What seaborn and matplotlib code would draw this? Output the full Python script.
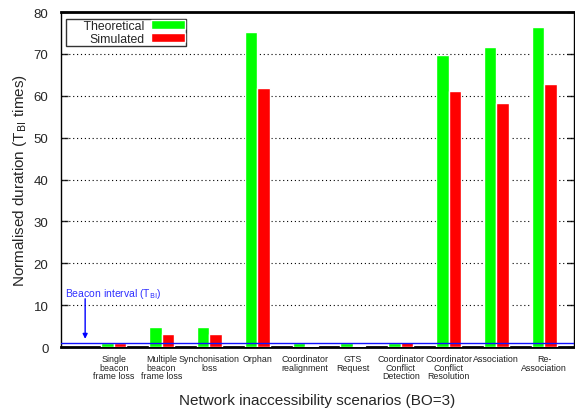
import pandas as pd
import matplotlib.pyplot as plt
import seaborn as sns

# Daten
szenarien = ["Single\nbeacon\nframe loss", "Multiple\nbeacon\nframe loss", "Synchonisation\nloss",
             "Orphan", "Coordinator\nrealignment", "GTS\nRequest", "Coordinator\nConflict\nDetection",
             "Coordinator\nConflict\nResolution", "Association", "Re-\nAssociation"]
theoretisch = [1.0, 4.7, 4.7, 75.3, 1.0, 1.0, 1.0, 69.8, 71.7, 76.5]
simuliert = [1.0, 3.1, 3.1, 61.8, 0.2, 0.2, 1.3, 61.2, 58.3, 62.8]
beacon_interval = 1.0

df = pd.DataFrame({
    "szenario": szenarien * 2,
    "wert": theoretisch + simuliert,
    "typ": ["Theoretical"] * len(szenarien) + ["Simulated"] * len(szenarien),
})

sns.set_style("white")
plt.rcParams["font.family"] = ["Liberation Sans", "DejaVu Sans"]

fig = plt.figure(figsize=(5.75, 4.10), dpi=100)
ax = fig.add_axes([0.106, 0.151, 0.892, 0.817])

sns.barplot(data=df, x="szenario", y="wert", hue="typ", order=szenarien,
            palette={"Theoretical": "#00ff00", "Simulated": "#ff0000"},
            width=0.52, saturation=1, errorbar=None, ax=ax, zorder=3)

ax.set_xlim(-1.106, 9.62)
ax.set_ylim(0, 80)
ax.set_yticks(range(0, 81, 10))
for y in range(10, 80, 10):
    ax.axhline(y, color="black", linestyle=(0, (1, 2.5)), linewidth=0.8, zorder=1)
ax.axhline(beacon_interval, color="#1010ff", linewidth=1.0, zorder=4)

ax.tick_params(axis="y", direction="in", length=5, width=1, left=True, right=True,
               labelsize=9.5, pad=9)
ax.tick_params(axis="x", length=0, labelsize=6.4, pad=5)
for lbl in ax.get_xticklabels():
    lbl.set_color("#222222")
    lbl.set_linespacing(0.95)
for s in ["top", "bottom"]:
    ax.spines[s].set_linewidth(2)
for s in ["left", "right"]:
    ax.spines[s].set_linewidth(1)
for s in ax.spines.values():
    s.set_color("black")

ax.set_xlabel("Network inaccessibility scenarios (BO=3)", fontsize=11, labelpad=9)
ax.set_ylabel("Normalised duration (T$_{\\rm BI}$ times)", fontsize=11, labelpad=3)

# Beacon interval Beschriftung
ax.text(-1.03, 12.8, "Beacon interval (T$_{\\rm BI}$)", color="#3030ff", fontsize=7.5,
        ha="left", va="center")
ax.annotate("", xy=(-0.6, 1.3), xytext=(-0.6, 12.2),
            arrowprops=dict(arrowstyle="-|>", color="#0000ff", lw=1, mutation_scale=7))

handles, labels = ax.get_legend_handles_labels()
leg = ax.legend(handles, ["     Theoretical", "Simulated"], loc="upper left",
                bbox_to_anchor=(0.01, 0.98), frameon=True, fancybox=False,
                markerfirst=False, fontsize=8.8, handlelength=2.8, handleheight=0.7,
                borderpad=0.1, labelspacing=0.05, handletextpad=0.5, borderaxespad=0)
leg.get_frame().set_edgecolor("black")
leg.get_frame().set_linewidth(1)
for t in leg.get_texts():
    t.set_ha("right")

plt.savefig("out.png", dpi=100)
